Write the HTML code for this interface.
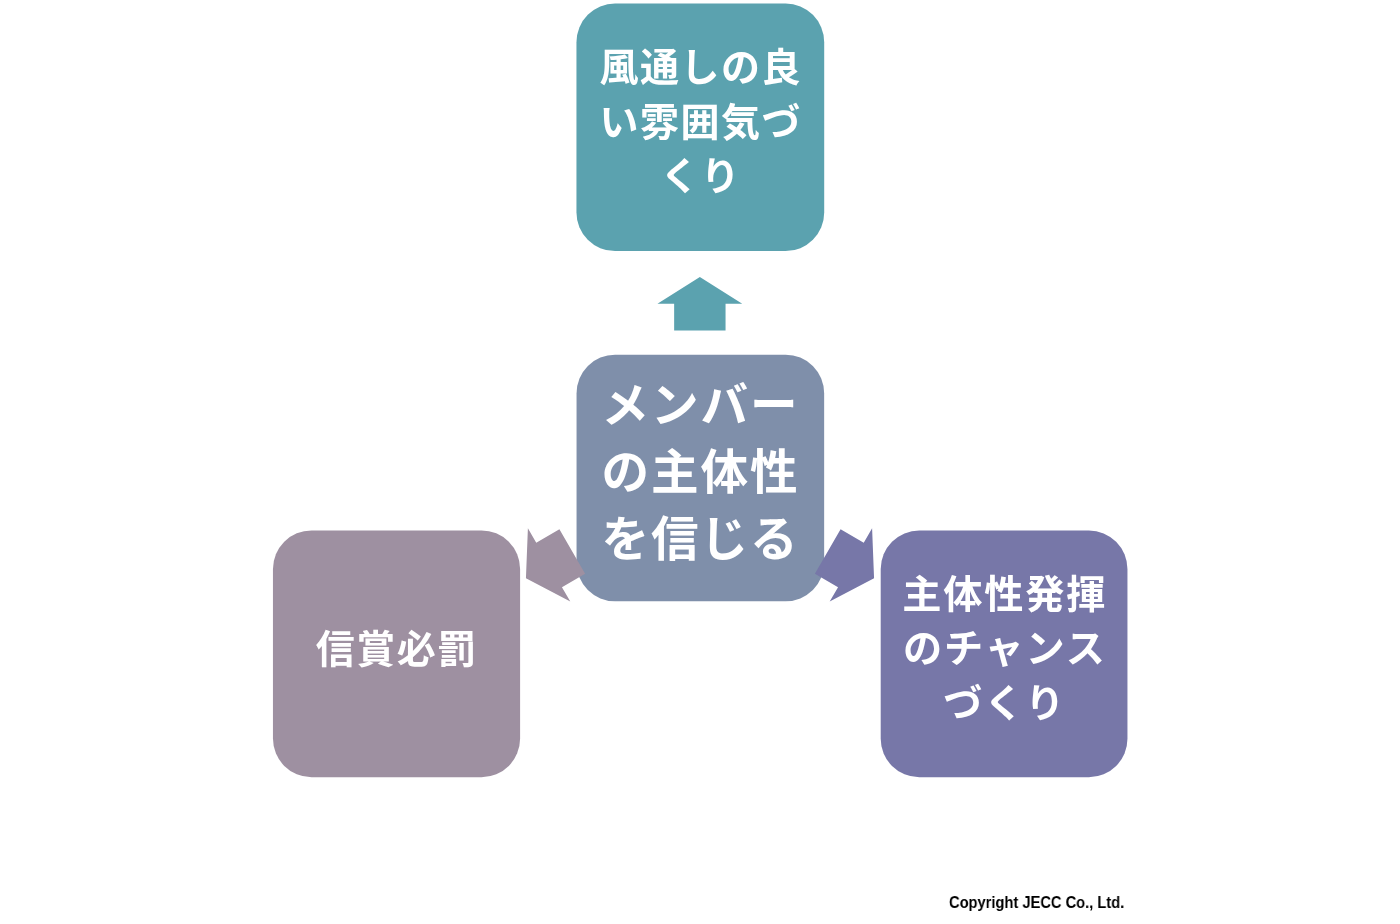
<!DOCTYPE html>
<html lang="ja">
<head>
<meta charset="utf-8">
<title>メンバーの主体性を信じる</title>
<style>
html,body{margin:0;padding:0;background:#fff;}
body{width:1400px;height:924px;position:relative;overflow:hidden;font-family:"Liberation Sans","Noto Sans CJK JP",sans-serif;}
.box{position:absolute;border-radius:39px;color:#fff;font-weight:700;text-align:center;display:flex;align-items:center;justify-content:center;box-sizing:border-box;}
.box p{margin:0;}
.box,#copy{will-change:transform;}
#top{left:576.8px;top:3.2px;width:247.3px;height:247.7px;}
#mid{left:576.4px;top:354.6px;width:247.2px;height:246.5px;}
#left{left:273.2px;top:530.3px;width:246.7px;height:246.8px;}
#right{left:881.1px;top:530.5px;width:246.6px;height:246.6px;}
#top p,#right p,#left p{font-size:39px;letter-spacing:1.5px;line-height:54.5px;position:relative;}
#mid p{font-size:47.6px;letter-spacing:1.9px;line-height:67.2px;position:relative;top:-5.9px;left:1px;}
#top p{top:-3.9px;left:0.2px;}
#left p{top:-3.2px;left:0.5px;}
#right p{top:-4.6px;left:0.5px;font-size:39.2px;letter-spacing:1.8px;}
svg.arrows,svg.shapes{position:absolute;left:0;top:0;}
#copy{position:absolute;left:948.5px;top:890px;font-size:17.15px;line-height:24px;font-weight:700;color:#000;white-space:nowrap;transform-origin:0 0;transform:scaleX(0.856);}
</style>
</head>
<body>
<svg class="shapes" width="1400" height="924" viewBox="0 0 1400 924">
  <rect x="576.45" y="3.55" width="247.75" height="247.55" rx="38.6" ry="38.6" fill="#5ba2af"/>
  <rect x="576.55" y="354.65" width="247.6" height="246.7" rx="38.6" ry="38.6" fill="#7f8faa"/>
  <rect x="272.95" y="530.4" width="247.15" height="246.8" rx="38.6" ry="38.6" fill="#9e90a1"/>
  <rect x="880.7" y="530.5" width="246.75" height="246.75" rx="38.6" ry="38.6" fill="#7777a8"/>
</svg>
<div class="box" id="top"><p>風通しの良<br>い雰囲気づ<br>くり</p></div>
<div class="box" id="mid"><p>メンバー<br>の主体性<br>を信じる</p></div>
<div class="box" id="left"><p>信賞必罰</p></div>
<div class="box" id="right"><p>主体性発揮<br>のチャンス<br>づくり</p></div>
<svg class="arrows" width="1400" height="924" viewBox="0 0 1400 924">
  <polygon points="26.75,0 0,-42.4 0,-25.7 -26.75,-25.7 -26.75,25.7 0,25.7 0,42.4" fill="#5ba2af" transform="translate(699.85,303.8) rotate(-90)"/>
  <polygon points="26.75,0 0,-42.4 0,-25.7 -26.75,-25.7 -26.75,25.7 0,25.7 0,42.4" fill="#9e90a1" transform="translate(549.1,564.9) rotate(150)"/>
  <polygon points="26.75,0 0,-42.4 0,-25.7 -26.75,-25.7 -26.75,25.7 0,25.7 0,42.4" fill="#7777a8" transform="translate(850.9,564.9) rotate(30)"/>
</svg>
<div id="copy">Copyright JECC Co., Ltd.</div>
</body>
</html>
